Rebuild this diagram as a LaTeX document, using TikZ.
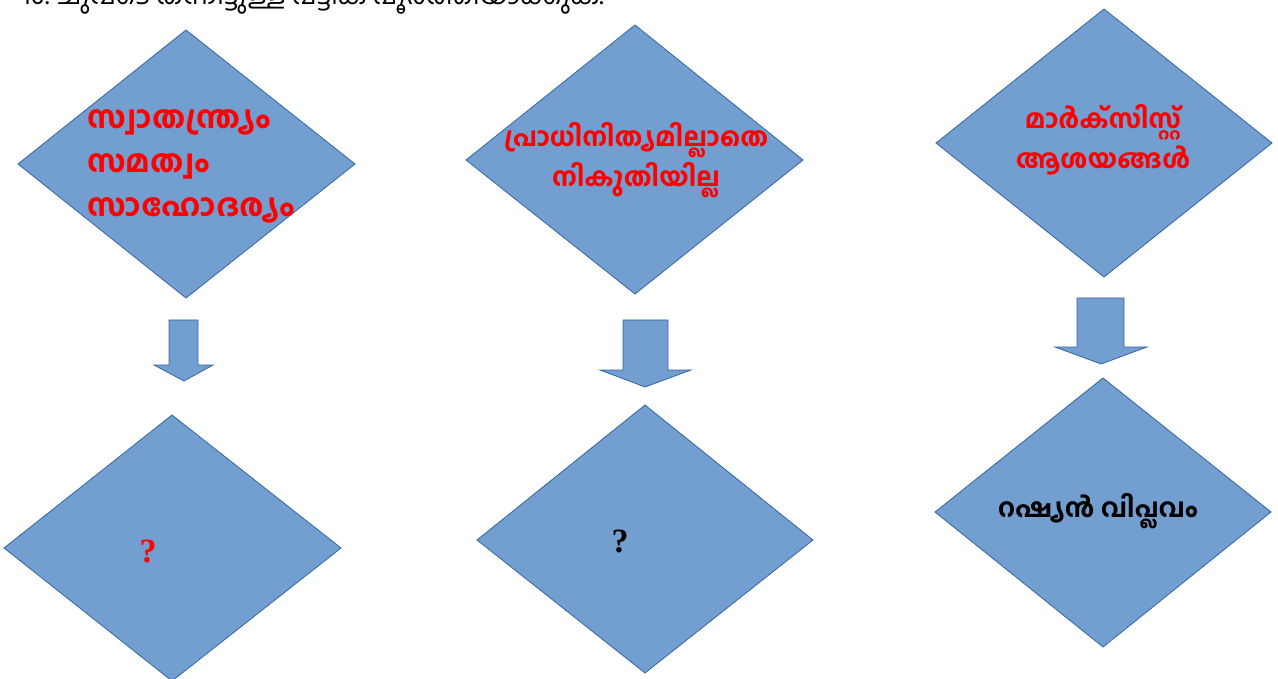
\documentclass[tikz,border=0pt]{standalone}
\usepackage{fontspec}
\newfontfamily\mal[Script=Malayalam]{Hind Kochi}
\newfontfamily\malb[Script=Malayalam]{Hind Kochi Bold}
\setmainfont{Liberation Serif}
\definecolor{fillblue}{RGB}{114,159,207}
\definecolor{edgeblue}{RGB}{52,101,164}
\begin{document}
\begin{tikzpicture}[x=1pt,y=-1pt,
  dia/.style={fill=fillblue,draw=edgeblue,line width=0.8pt},
  arr/.style={fill=fillblue,draw=edgeblue,line width=0.8pt},
  mtxt/.style={text=red,align=center,inner sep=0pt},
  btxt/.style={text=black,align=center,inner sep=0pt},
  qm/.style={font=\bfseries\fontsize{34}{34}\selectfont,inner sep=0pt}]
\useasboundingbox (0,0) rectangle (1278,679);
% heading (cut off at top)
\node[anchor=base west,inner sep=0pt,font=\mal\fontsize{26.4}{26}\selectfont] (head) at (22,5) {10. ചുവടെ തന്നിട്ടുള്ള പട്ടിക പൂർത്തിയാക്കുക.};
% diamonds
\draw[dia] (186,30) -- (355,164) -- (186,298) -- (18,164) -- cycle;
\draw[dia] (635,25) -- (803,160) -- (635,294) -- (466,160) -- cycle;
\draw[dia] (1104,9) -- (1272,143) -- (1104,277) -- (936,143) -- cycle;
\draw[dia] (172,415) -- (341,548) -- (172,681) -- (4,548) -- cycle;
\draw[dia] (645,405) -- (813,540) -- (645,673) -- (477,540) -- cycle;
\draw[dia] (1103,378) -- (1271,512) -- (1103,647) -- (935,512) -- cycle;
% arrows
\draw[arr] (169,320) -- (198,320) -- (198,365) -- (213,365) -- (184,381) -- (154,365) -- (169,365) -- cycle;
\draw[arr] (623,320) -- (668,320) -- (668,370) -- (691,370) -- (645,387) -- (600,370) -- (623,370) -- cycle;
\draw[arr] (1077,298) -- (1124,298) -- (1124,347) -- (1147,347) -- (1101,364) -- (1055,347) -- (1077,347) -- cycle;
% texts
\node[mtxt,align=left,anchor=west,font=\malb\fontsize{31}{44}\selectfont] (t1) at (87,166) {സ്വാതന്ത്ര്യം\\സമത്വം\\സാഹോദര്യം};
\node[mtxt,font=\malb\fontsize{26}{40}\selectfont] (t2) at (636,160) {പ്രാധിനിത്യമില്ലാതെ\\നികുതിയില്ല};
\node[mtxt,font=\malb\fontsize{26}{40}\selectfont] (t3) at (1103,140) {മാർക്സിസ്റ്റ്\\ആശയങ്ങൾ};
\node[btxt,font=\malb\fontsize{26}{40}\selectfont] (t6) at (1098,511) {റഷ്യൻ വിപ്ലവം};
\node[qm,text=red] (t4) at (148,551) {?};
\node[qm,text=black] (t5) at (620,541) {?};
\end{tikzpicture}
\end{document}
